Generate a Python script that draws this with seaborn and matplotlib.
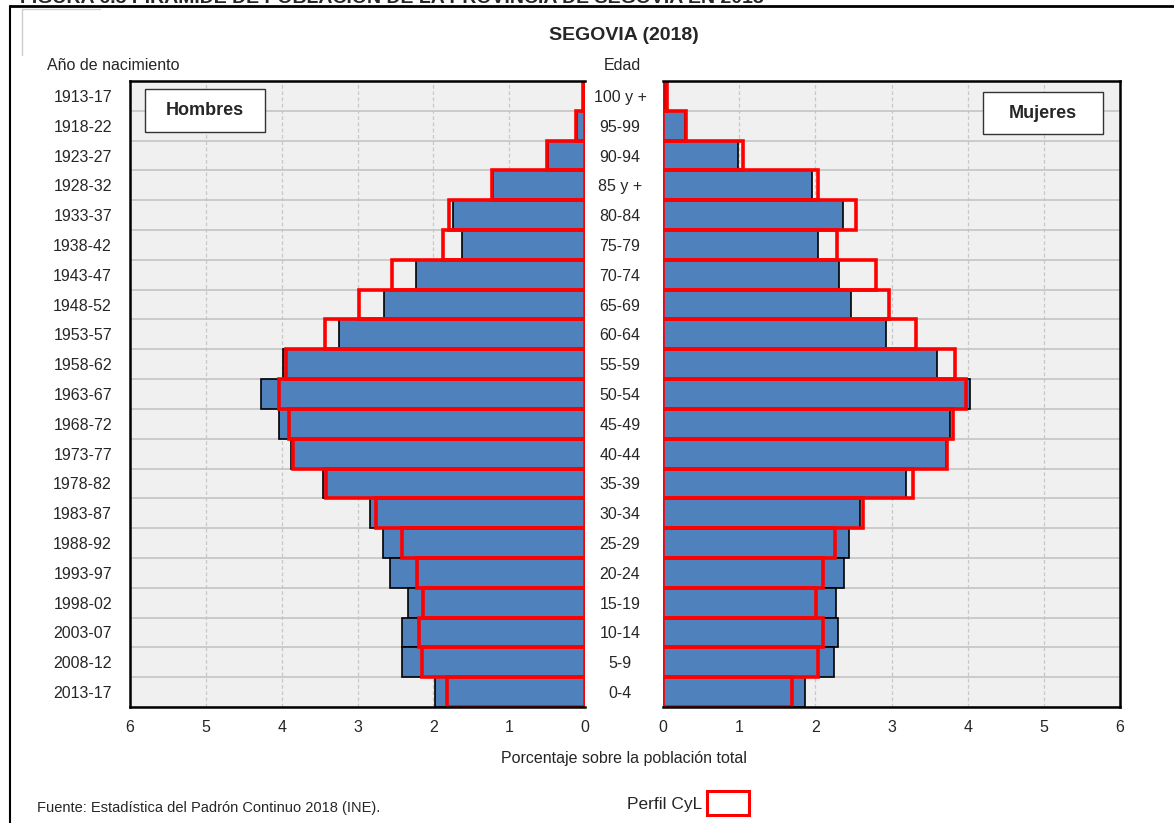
import numpy as np
import matplotlib
matplotlib.use("Agg")
import matplotlib.pyplot as plt
import seaborn as sns
from matplotlib.patches import Rectangle, Patch
from matplotlib.lines import Line2D


# ==========================================
# DATA (percent of total population)
# ==========================================

birth_years = ["1913-17", "1918-22", "1923-27", "1928-32", "1933-37", "1938-42",
               "1943-47", "1948-52", "1953-57", "1958-62", "1963-67", "1968-72",
               "1973-77", "1978-82", "1983-87", "1988-92", "1993-97", "1998-02",
               "2003-07", "2008-12", "2013-17"]

ages = ["100 y +", "95-99", "90-94", "85 y +", "80-84", "75-79", "70-74",
        "65-69", "60-64", "55-59", "50-54", "45-49", "40-44", "35-39",
        "30-34", "25-29", "20-24", "15-19", "10-14", "5-9", "0-4"]

men_segovia = [0.01, 0.10, 0.49, 1.21, 1.74, 1.62, 2.23, 2.65, 3.25, 3.98, 4.27,
               4.03, 3.88, 3.46, 2.84, 2.67, 2.57, 2.34, 2.41, 2.41, 1.98]

men_cyl = [0.02, 0.12, 0.50, 1.23, 1.79, 1.87, 2.55, 2.98, 3.43, 3.94, 4.03,
           3.90, 3.85, 3.42, 2.75, 2.41, 2.21, 2.13, 2.19, 2.15, 1.82]

women_segovia = [0.03, 0.29, 0.99, 1.96, 2.36, 2.03, 2.31, 2.47, 2.93, 3.60, 4.03,
                 3.77, 3.72, 3.19, 2.59, 2.44, 2.38, 2.27, 2.30, 2.24, 1.87]

women_cyl = [0.05, 0.30, 1.05, 2.04, 2.53, 2.29, 2.79, 2.97, 3.32, 3.83, 3.98,
             3.81, 3.73, 3.28, 2.63, 2.26, 2.10, 2.01, 2.10, 2.03, 1.70]

x_ticks = [0, 1, 2, 3, 4, 5, 6]


# ==========================================
# STYLE
# ==========================================

sns.set_style("white")
plt.rcParams["font.family"] = ["Liberation Sans", "DejaVu Sans"]

BLUE = "#4F81BD"
RED = "#FF0000"
BG = "#F0F0F0"
FS = 11.5

W, H = 1174, 823
fig = plt.figure(figsize=(W / 100, H / 100), dpi=100)


def fx(px):
    return px / W


def fy(py):
    return 1 - py / H


ax_m = fig.add_axes([fx(130), fy(707), fx(585 - 130), (707 - 81) / H])
ax_w = fig.add_axes([fx(663), fy(707), fx(1120 - 663), (707 - 81) / H])


# ==========================================
# BARS
# ==========================================

for ax, seg, cyl, labels in [(ax_m, men_segovia, men_cyl, birth_years),
                             (ax_w, women_segovia, women_cyl, ages)]:

    sns.barplot(x=seg, y=labels, orient="h", ax=ax, width=1.0,
                color=BLUE, saturation=1, edgecolor="black", linewidth=1.2)

    sns.barplot(x=cyl, y=labels, orient="h", ax=ax, width=1.0,
                color=RED, fill=False, linewidth=2.6)

    ax.set_facecolor(BG)
    ax.set_axisbelow(True)
    ax.set_xticks(x_ticks)
    ax.set_xticklabels([str(t) for t in x_ticks], fontsize=FS)
    ax.set_yticks(np.arange(-0.5, len(labels)), minor=True)
    ax.grid(which="minor", axis="y", color="#C4C4C4", linewidth=1.2)
    ax.grid(which="major", axis="x", color="#C8C8C8", linewidth=0.9,
            linestyle=(0, (3, 2)))
    ax.grid(which="major", axis="y", visible=False)
    ax.set_ylim(len(labels) - 0.5, -0.5)
    ax.set_xlabel("")
    ax.set_ylabel("")
    ax.tick_params(axis="x", length=5, width=1, color="black", pad=4)
    ax.tick_params(axis="y", which="both", length=0)
    for s in ax.spines.values():
        s.set_color("black")
        s.set_linewidth(1.8)


# men on the left, reversed axis
ax_m.set_xlim(6, 0)
ax_m.spines["right"].set_visible(False)
ax_m.tick_params(axis="y", labelsize=FS, pad=13)

# women on the right, age labels centred in the gap
ax_w.set_xlim(0, 6)
ax_w.spines["left"].set_visible(False)
ax_w.tick_params(axis="y", labelsize=FS, pad=31)
for t in ax_w.get_yticklabels():
    t.set_ha("center")


# ==========================================
# SEX LABEL BOXES
# ==========================================

ax_m.add_patch(Rectangle((0.033, 0.9185), 0.264, 0.0685, transform=ax_m.transAxes,
                         facecolor="white", edgecolor="#333333", lw=1, zorder=6))
ax_m.text(0.165, 0.953, "Hombres", transform=ax_m.transAxes, ha="center",
          va="center", fontsize=13, fontweight="bold", zorder=7)

ax_w.add_patch(Rectangle((0.700, 0.915), 0.263, 0.067, transform=ax_w.transAxes,
                         facecolor="white", edgecolor="#333333", lw=1, zorder=6))
ax_w.text(0.8315, 0.9485, "Mujeres", transform=ax_w.transAxes, ha="center",
          va="center", fontsize=13, fontweight="bold", zorder=7)


# ==========================================
# TEXTS AND FRAME
# ==========================================

fig.text(fx(20), fy(3), "FIGURA 6.3 PIRÁMIDE DE POBLACIÓN DE LA PROVINCIA DE SEGOVIA EN 2018",
         ha="left", va="baseline", fontsize=14, fontweight="bold")

fig.text(fx(624), fy(35), "SEGOVIA (2018)", ha="center", va="center",
         fontsize=14, fontweight="bold")
fig.text(fx(47), fy(66), "Año de nacimiento", ha="left", va="center", fontsize=FS)
fig.text(fx(604), fy(66), "Edad", ha="left", va="center", fontsize=FS)
fig.text(fx(624), fy(759), "Porcentaje sobre la población total",
         ha="center", va="center", fontsize=FS)
fig.text(fx(37), fy(808), "Fuente: Estadística del Padrón Continuo 2018 (INE).",
         ha="left", va="center", fontsize=10.5)

fig.legend(handles=[Patch(facecolor="white", edgecolor=RED, linewidth=2.2)],
           labels=["Perfil CyL"], loc="center", bbox_to_anchor=(fx(688), fy(803)),
           markerfirst=False, frameon=False, handlelength=2.4, handleheight=1.8,
           handletextpad=0.3, fontsize=12.5)

# outer frame lines
fig.add_artist(Line2D([fx(10), fx(1174)], [fy(6), fy(6)], color="black", lw=2))
fig.add_artist(Line2D([fx(10), fx(10)], [fy(6), fy(823)], color="black", lw=1.5))
fig.add_artist(Line2D([fx(22), fx(22)], [fy(9), fy(55)], color="#CCCCCC", lw=1))
fig.add_artist(Line2D([fx(22), fx(100)], [fy(9), fy(9)], color="#CCCCCC", lw=1))

fig.savefig("out.png", dpi=100)
